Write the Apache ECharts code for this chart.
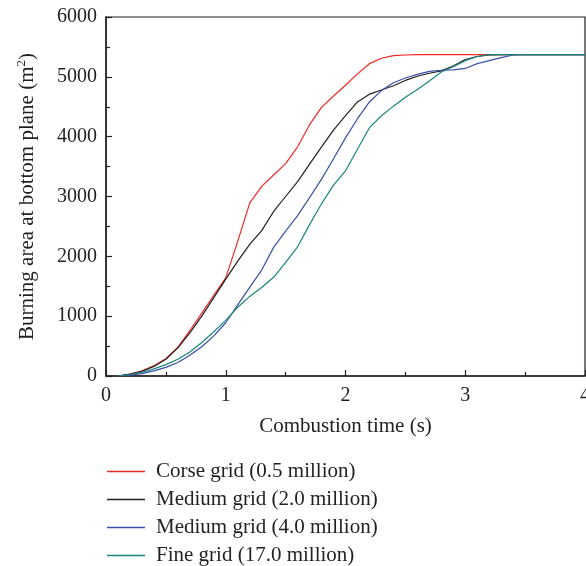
<!DOCTYPE html>
<html>
<head>
<meta charset="utf-8">
<script src="https://cdn.jsdelivr.net/npm/echarts@6/dist/echarts.min.js"></script>
<style>
  html, body { margin: 0; padding: 0; background: #fff; }
  #chart { width: 586px; height: 566px; }
</style>
</head>
<body>
<div id="chart"></div>
<script>
// Combustion time (s)
const times = [0.1, 0.2, 0.3, 0.4, 0.5, 0.6, 0.7, 0.8, 0.9, 1.0,
               1.1, 1.2, 1.3, 1.4, 1.5, 1.6, 1.7, 1.8, 1.9, 2.0,
               2.1, 2.2, 2.3, 2.4, 2.5, 2.6, 2.7, 2.8, 2.9, 3.0,
               3.1, 3.2, 3.3, 3.4, 3.5, 3.6, 3.7, 3.8, 3.9, 4.0];

// Burning area at bottom plane (m^2) for each mesh
const coarse05 = [0, 30, 85, 170, 290, 480, 760, 1050, 1350, 1640,
                  2250, 2890, 3170, 3360, 3550, 3830, 4200, 4490, 4680, 4860,
                  5050, 5220, 5310, 5355, 5365, 5370, 5370, 5370, 5370, 5370,
                  5370, 5370, 5370, 5370, 5370, 5370, 5370, 5370, 5370, 5370];
const medium20 = [0, 30, 80, 160, 280, 470, 720, 1000, 1310, 1620,
                  1920, 2200, 2430, 2750, 3000, 3250, 3540, 3830, 4110, 4350,
                  4580, 4710, 4780, 4850, 4940, 5010, 5060, 5100, 5180, 5290,
                  5340, 5365, 5370, 5370, 5370, 5370, 5370, 5370, 5370, 5370];
const medium40 = [0, 15, 40, 85, 145, 225, 345, 490, 670, 890,
                  1190, 1480, 1770, 2150, 2420, 2680, 2980, 3290, 3630, 3980,
                  4300, 4580, 4770, 4900, 4980, 5040, 5090, 5110, 5115, 5140,
                  5220, 5270, 5320, 5365, 5370, 5370, 5370, 5370, 5370, 5370];
const fine170 = [0, 25, 60, 120, 190, 280, 400, 560, 740, 930,
                 1150, 1330, 1480, 1650, 1900, 2160, 2530, 2880, 3190, 3430,
                 3790, 4150, 4350, 4510, 4660, 4790, 4930, 5080, 5170, 5270,
                 5340, 5370, 5370, 5370, 5370, 5370, 5370, 5370, 5370, 5370];

const seriesNames = ['Corse grid (0.5 million)', 'Medium grid (2.0 million)',
                     'Medium grid (4.0 million)', 'Fine grid (17.0 million)'];
const seriesValues = [coarse05, medium20, medium40, fine170];
const seriesColors = ['#ee2a24', '#231f20', '#3a50a6', '#1a877e'];

const FONT = 'Liberation Serif';
const INK = '#231f20';

const chart = echarts.init(document.getElementById('chart'), null, { renderer: 'canvas' });

const series = seriesNames.map((name, i) => ({
  name: name,
  type: 'line',
  data: times.map((t, j) => [t, seriesValues[i][j]]),
  showSymbol: false,
  smooth: false,
  lineStyle: { width: 1.2, color: seriesColors[i] },
  itemStyle: { color: seriesColors[i] },
  emphasis: { disabled: true }
}));

chart.setOption({
  animation: false,
  backgroundColor: '#fff',
  textStyle: { fontFamily: FONT, color: INK },
  grid: {
    left: 106, top: 17, width: 479, height: 359,
    outerBoundsMode: 'none', containLabel: false,
    show: true, borderColor: INK, borderWidth: 1.2, backgroundColor: 'transparent'
  },
  xAxis: {
    type: 'value', min: 0, max: 4, interval: 1,
    name: 'Combustion time (s)', nameLocation: 'middle', nameGap: 40,
    nameTextStyle: { fontFamily: FONT, fontSize: 21, color: INK },
    axisLine: { show: true, lineStyle: { color: INK, width: 1.5 } },
    axisTick: { show: true, inside: true, length: 6, lineStyle: { color: INK, width: 1.2 } },
    minorTick: { show: true, splitNumber: 2, length: 4, lineStyle: { color: INK, width: 1.2 } },
    axisLabel: { fontFamily: FONT, fontSize: 20, color: INK, margin: 10, formatter: v => String(v) },
    splitLine: { show: false }
  },
  yAxis: {
    type: 'value', min: 0, max: 6000, interval: 1000,
    name: 'Burning area at bottom plane (m{sup|2})', nameLocation: 'middle', nameGap: 66,
    nameRotate: 90,
    nameTextStyle: {
      fontFamily: FONT, fontSize: 21, color: INK,
      rich: { sup: { fontFamily: FONT, fontSize: 13, color: INK, padding: [0, 0, 12, 0] } }
    },
    axisLine: { show: true, lineStyle: { color: INK, width: 1.5 } },
    axisTick: { show: true, inside: true, length: 6, lineStyle: { color: INK, width: 1.2 } },
    minorTick: { show: true, splitNumber: 2, length: 4, lineStyle: { color: INK, width: 1.2 } },
    axisLabel: { fontFamily: FONT, fontSize: 20, color: INK, margin: 9, formatter: v => String(v) },
    splitLine: { show: false }
  },
  legend: {
    orient: 'vertical', left: 107, top: 461, height: 105, padding: 0,
    icon: 'rect', itemWidth: 38, itemHeight: 1.3, itemGap: 7,
    data: seriesNames,
    textStyle: { fontFamily: FONT, fontSize: 21, color: INK, lineHeight: 20, padding: [0, 0, 0, 6] }
  },
  series: series
});
</script>
</body>
</html>
